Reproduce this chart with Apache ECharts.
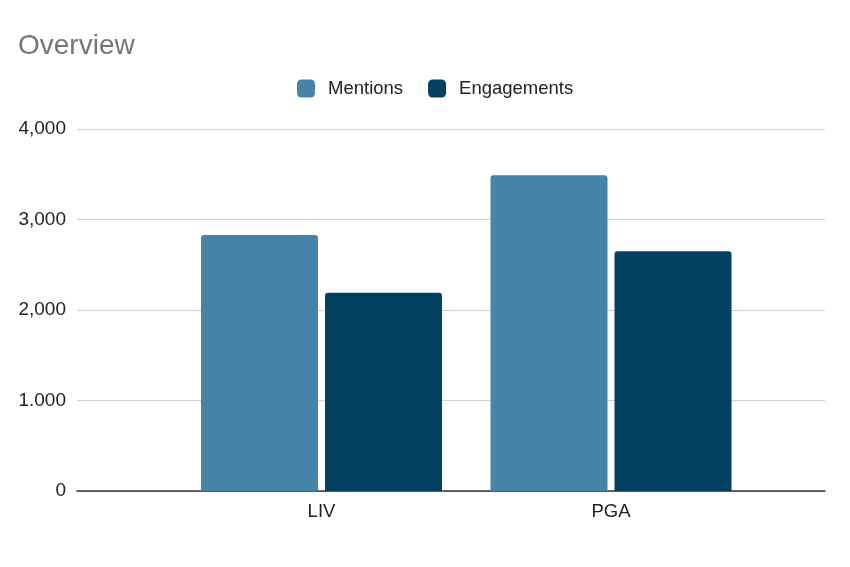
<!DOCTYPE html>
<html>
<head>
<meta charset="utf-8">
<script src="https://cdn.jsdelivr.net/npm/echarts@6/dist/echarts.min.js"></script>
<style>
html,body{margin:0;padding:0;background:#fff;}
#chart{width:850px;height:567px;}
</style>
</head>
<body>
<div id="chart"></div>
<script>
var categories = ["LIV", "PGA"];
var mentions = [2830, 3490];
var engagements = [2190, 2650];
var seriesNames = ["Mentions", "Engagements"];
var yTickLabels = ["0", "1.000", "2,000", "3,000", "4,000"];

var FONT = "'Liberation Sans', Arial, sans-serif";
var chart = echarts.init(document.getElementById('chart'));
chart.setOption({
  animation: false,
  backgroundColor: '#ffffff',
  title: {
    text: 'Overview',
    left: 13, top: 27,
    textStyle: {fontFamily: FONT, fontSize: 28, fontWeight: 'normal', color: '#757575'}
  },
  legend: {
    data: seriesNames,
    left: 292, top: 74,
    itemWidth: 18, itemHeight: 18, itemGap: 25,
    icon: 'roundRect',
    textStyle: {fontFamily: FONT, fontSize: 18.5, color: '#222222', padding: [0, 0, 0, 8]}
  },
  grid: [
    {left: 77, right: 25, top: 129, bottom: 76},
    {left: 176.75, right: 94.25, top: 129, bottom: 76}
  ],
  xAxis: [
    {gridIndex: 0, type: 'value', min: 0, max: 1,
     axisLine: {show: true, lineStyle: {color: '#333333', width: 1.5}},
     axisTick: {show: false}, axisLabel: {show: false}, splitLine: {show: false}},
    {gridIndex: 1, type: 'category', data: categories,
     axisLine: {show: false}, axisTick: {show: false},
     axisLabel: {fontFamily: FONT, fontSize: 18.5, color: '#222222', margin: 11}}
  ],
  yAxis: [
    {gridIndex: 0, type: 'value', min: 0, max: 4000, interval: 1000,
     axisLine: {show: false}, axisTick: {show: false},
     axisLabel: {fontFamily: FONT, fontSize: 19, color: '#222222', margin: 11,
       formatter: function (v) { return yTickLabels[Math.round(v / 1000)]; }},
     splitLine: {lineStyle: {color: '#c9d1d5', width: 1}}},
    {gridIndex: 1, type: 'value', min: 0, max: 4000, interval: 1000, show: false,
     splitLine: {show: false}}
  ],
  series: [
    {name: seriesNames[0], type: 'bar', xAxisIndex: 1, yAxisIndex: 1, data: mentions,
     barCategoryGap: '16.75%', barGap: '6%',
     itemStyle: {color: '#4583a8', borderRadius: [3, 3, 0, 0]}},
    {name: seriesNames[1], type: 'bar', xAxisIndex: 1, yAxisIndex: 1, data: engagements,
     barCategoryGap: '16.75%', barGap: '6%',
     itemStyle: {color: '#034163', borderRadius: [3, 3, 0, 0]}}
  ]
});
</script>
</body>
</html>
